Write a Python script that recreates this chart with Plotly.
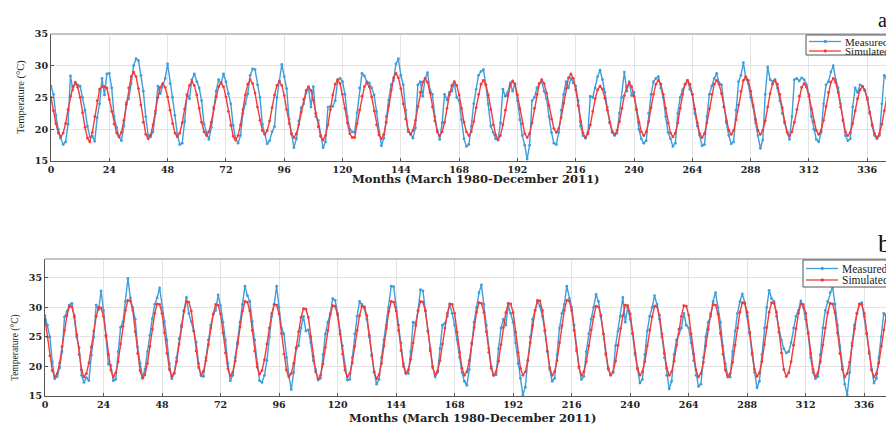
import plotly.graph_objects as go

# ---------------- data (monthly values, March 1980 onward) ----------------
measured_a = sum([
    [26.8,25.5,22.2,20.0,18.6,17.6,18.0,20.8,28.4,26.2,27.4,27.0],
    [26.8,25.0,23.0,20.5,18.8,18.9,18.1,21.8,24.0,28.0,25.4,28.7],
    [28.8,26.5,22.0,20.3,18.8,18.2,20.5,24.2,24.8,27.2,30.0,31.1],
    [30.8,28.5,26.0,22.0,19.0,18.8,19.6,22.5,26.8,25.6,27.0,28.0],
    [30.3,27.2,25.0,22.2,19.2,17.6,17.8,21.2,25.5,24.8,27.8,28.7],
    [27.5,26.5,24.5,20.8,19.5,18.4,20.3,23.5,26.0,27.8,27.2,28.7],
    [27.5,25.6,24.0,20.6,18.5,17.8,19.0,22.5,24.0,25.6,28.5,29.5],
    [29.4,27.0,25.0,20.8,19.4,17.7,18.2,19.6,20.4,25.0,27.6,30.2],
    [28.3,26.4,21.6,19.2,17.1,18.5,21.3,23.4,24.0,25.7,26.5,23.5],
    [26.7,22.0,21.4,19.0,17.1,18.0,23.5,23.6,23.6,24.5,27.7,28.0],
    [27.5,25.5,22.0,20.0,19.6,19.5,22.6,26.5,28.8,28.4,27.5,27.3],
    [26.5,25.4,22.8,19.6,17.4,18.6,22.0,24.6,27.0,27.7,30.3,31.1],
    [28.5,27.0,23.0,19.6,19.3,18.6,20.2,27.0,27.5,25.2,28.0,28.9],
    [26.2,25.5,22.0,19.8,18.4,21.0,25.5,24.6,25.8,26.0,27.3,25.0],
    [24.5,21.5,18.5,17.3,17.6,20.5,24.0,26.3,28.5,29.1,29.4,27.0],
    [24.0,20.5,19.5,18.5,18.3,21.0,26.3,25.2,25.8,27.3,26.0,27.2],
    [24.5,21.5,19.0,17.5,15.3,17.5,24.5,25.0,26.5,27.2,27.5,26.0],
    [24.8,22.0,19.5,17.8,17.6,19.5,23.0,25.5,27.5,26.5,28.0,27.3],
    [26.8,24.5,20.5,19.0,18.6,19.5,25.2,25.0,26.5,28.3,29.3,27.8],
    [25.8,23.5,21.0,19.5,19.0,19.4,22.5,25.0,29.0,26.0,27.5,25.3],
    [25.8,23.0,20.0,18.5,17.8,18.2,22.5,25.5,27.5,28.0,28.3,26.5],
    [25.0,22.0,19.5,18.5,17.3,17.8,22.5,25.0,26.2,27.0,27.7,26.3],
    [25.5,22.5,20.5,19.0,17.4,17.6,22.0,25.5,26.8,28.0,28.8,27.3],
    [27.0,23.5,21.0,19.0,17.7,18.0,23.0,27.5,28.5,30.5,28.0,27.2],
    [25.0,23.5,21.0,19.0,17.0,18.3,25.5,29.8,27.8,27.5,27.8,26.5],
    [24.5,22.5,21.0,19.5,18.4,22.0,27.8,28.0,27.6,28.1,27.8,27.0],
    [25.5,22.0,20.0,18.4,18.0,19.5,24.0,27.0,27.5,29.0,30.0,27.8],
    [26.5,24.0,21.5,19.0,18.2,18.5,23.5,26.5,25.8,27.0,26.8,26.2],
    [25.0,22.5,20.5,19.0,18.5,19.0,24.0,28.5,28.0,29.0,28.5,29.0],
    [27.5,26.0],
], [])

simulated_a = sum([
    [25.0,22.9,20.9,19.4,18.8,19.4,20.9,23.1,25.2,26.7,27.3,26.6],
    [25.0,22.6,20.3,18.6,18.0,19.5,22.0,24.5,26.3,26.7,26.7,26.5],
    [24.7,22.8,20.8,19.4,18.8,19.5,21.4,23.9,26.5,28.3,29.0,28.3],
    [26.4,23.8,21.1,19.2,18.5,19.1,20.7,22.9,25.0,26.6,27.2,26.6],
    [25.1,23.0,20.9,19.4,18.8,19.4,21.0,23.2,25.3,26.9,27.5,26.9],
    [25.4,23.3,21.1,19.6,19.0,19.6,21.1,23.2,25.2,26.7,27.3,26.7],
    [25.1,22.8,20.6,18.9,18.3,19.0,20.7,23.1,25.4,27.1,27.8,27.2],
    [25.7,23.5,21.4,19.8,19.2,19.8,21.3,23.4,25.4,26.9,27.5,26.9],
    [25.3,23.1,20.9,19.3,18.7,19.3,20.7,22.7,24.7,26.1,26.7,26.1],
    [24.6,22.5,20.4,18.9,18.3,19.0,20.7,23.1,25.4,27.1,27.8,27.2],
    [25.5,23.3,21.0,19.3,18.7,18.7,20.9,23.0,25.2,26.7,27.3,26.7],
    [25.1,22.9,20.7,19.1,18.5,19.2,21.1,23.7,26.2,28.1,28.8,28.1],
    [26.4,24.0,21.6,19.9,19.2,19.8,21.4,23.6,25.8,27.4,28.0,27.4],
    [25.8,23.5,21.3,19.6,19.0,19.6,21.1,23.3,25.4,26.9,27.5,26.9],
    [25.4,23.3,21.1,19.6,19.0,19.6,21.2,23.4,25.5,27.1,27.7,27.0],
    [25.4,23.1,20.7,19.1,18.4,19.0,20.7,23.0,25.3,26.9,27.6,27.0],
    [25.4,23.2,20.9,19.3,18.7,19.3,21.0,23.3,25.5,27.2,27.8,27.2],
    [25.7,23.7,21.6,20.1,19.5,20.1,21.8,24.1,26.4,28.1,28.7,28.0],
    [26.2,23.7,21.2,19.4,18.7,19.3,20.7,22.8,24.8,26.2,26.8,26.3],
    [24.9,23.0,21.1,19.7,19.2,19.8,21.2,23.3,25.3,26.7,27.3,26.7],
    [25.2,23.2,21.1,19.6,19.0,19.6,21.2,23.4,25.5,27.1,27.7,27.1],
    [25.5,23.3,21.0,19.4,18.8,19.4,21.0,23.3,25.5,27.1,27.7,27.1],
    [25.5,23.2,21.0,19.3,18.7,19.3,21.0,23.2,25.5,27.1,27.7,27.1],
    [25.6,23.5,21.3,19.8,19.2,19.8,21.5,23.8,26.0,27.7,28.3,27.7],
    [26.0,23.8,21.5,19.8,19.2,19.8,21.3,23.5,25.6,27.1,27.7,27.1],
    [25.5,23.4,21.2,19.6,19.0,19.6,21.1,23.1,25.2,26.6,27.2,26.6],
    [25.2,23.2,21.2,19.8,19.2,19.8,21.4,23.6,25.8,27.4,28.0,27.4],
    [25.8,23.5,21.3,19.6,19.0,19.5,20.9,22.9,24.8,26.2,26.7,26.1],
    [24.7,22.7,20.7,19.3,18.7,19.3,20.8,22.9,24.9,26.4,27.0,26.5],
    [25.0,23.0],
], [])

measured_b = sum([
    [28.6,27.0,25.0,20.8,17.9,18.3,19.8,22.5,28.4,29.3,30.4,30.7],
    [28.3,25.0,23.2,18.5,17.3,18.1,17.6,21.9,25.0,30.4,29.6,32.8],
    [29.5,25.0,20.4,20.2,17.6,17.8,22.5,26.6,27.6,31.0,34.9,31.6],
    [30.0,28.0,23.3,20.5,18.1,19.5,22.5,25.3,28.1,30.5,31.6,33.3],
    [30.0,27.6,24.5,20.5,17.9,18.8,21.5,24.7,27.0,29.5,31.7,29.0],
    [27.6,26.0,24.1,20.5,18.4,18.3,21.5,24.5,27.0,28.8,29.5,32.1],
    [30.3,27.5,24.5,20.5,17.6,18.5,21.5,24.1,27.5,30.5,33.6,32.0],
    [31.0,27.6,24.5,20.5,17.6,17.3,18.5,21.0,25.0,28.5,30.5,33.6],
    [30.0,26.5,25.5,21.5,18.5,16.1,19.0,23.0,23.5,26.5,28.5,26.0],
    [26.2,24.0,21.0,19.5,17.7,18.0,22.0,25.5,27.5,29.0,31.5,31.2],
    [29.0,26.0,23.5,20.0,17.7,17.8,21.5,25.5,28.5,31.0,30.5,29.8],
    [28.0,25.0,22.0,19.0,17.0,17.8,21.5,24.5,27.0,30.0,33.6,33.5],
    [30.0,27.0,24.0,20.5,19.0,18.8,22.5,27.5,27.3,29.5,33.0,32.8],
    [29.5,26.0,23.0,20.0,18.2,19.0,23.0,27.0,27.3,28.5,30.5,29.0],
    [27.0,24.5,21.5,19.0,17.5,16.8,19.5,24.0,27.5,30.0,32.5,33.8],
    [30.5,27.0,23.0,20.0,18.5,18.6,23.0,26.5,28.0,27.0,30.3,29.0],
    [27.5,24.0,20.5,18.0,15.2,16.5,21.0,25.0,28.0,29.5,31.0,30.2],
    [28.5,26.0,22.5,19.5,17.5,18.0,22.0,26.5,29.0,30.5,33.6,31.5],
    [30.0,27.0,23.0,20.0,17.8,18.3,22.5,25.5,28.0,30.0,32.2,31.0],
    [28.5,25.5,22.0,19.5,18.6,19.0,23.5,26.0,28.5,31.7,27.5,30.0],
    [28.0,25.5,22.0,19.5,17.2,17.8,22.0,26.0,28.5,30.0,32.0,30.5],
    [28.0,25.0,21.5,18.5,16.2,17.5,22.0,24.5,25.5,26.5,29.0,27.0],
    [26.5,24.0,21.0,18.5,16.6,17.0,21.5,25.0,27.5,28.5,31.0,32.5],
    [30.0,27.5,23.5,20.5,18.5,18.2,22.5,26.0,29.0,31.0,32.3,30.8],
    [28.5,25.5,22.0,19.0,16.4,17.5,22.0,26.5,30.0,32.9,31.5,31.0],
    [28.5,26.5,24.5,23.0,22.3,22.5,24.0,26.5,28.5,29.5,31.1,30.0],
    [28.0,25.5,21.5,19.0,17.9,18.3,22.0,26.5,29.5,31.0,32.5,33.6],
    [30.5,27.0,23.5,20.0,17.0,15.2,19.0,24.0,27.0,29.0,30.5,30.8],
    [28.5,25.5,22.5,19.5,17.2,18.0,21.5,25.0,29.0,28.5,32.0,33.5],
    [31.0,28.0],
], [])

simulated_b = sum([
    [28.0,25.0,21.8,19.3,18.2,18.8,20.6,23.4,26.1,28.6,30.2,30.1],
    [28.6,25.4,22.0,19.4,18.2,18.8,20.6,23.3,26.0,28.5,30.0,29.9],
    [28.5,25.3,22.0,19.4,18.2,18.9,20.8,23.8,26.8,29.5,31.2,31.1],
    [29.5,25.9,22.2,19.3,18.0,18.6,20.5,23.4,26.3,29.0,30.6,30.5],
    [29.0,25.7,22.2,19.5,18.3,18.9,20.8,23.8,26.7,29.3,31.0,30.9],
    [29.4,26.0,22.6,19.8,18.6,19.2,21.0,23.7,26.5,28.9,30.5,30.4],
    [28.9,25.7,22.3,19.6,18.4,19.0,20.9,23.8,26.7,29.4,31.0,30.9],
    [29.4,26.1,22.6,19.9,18.7,19.3,21.1,23.8,26.5,29.0,30.5,30.4],
    [28.9,25.6,22.1,19.4,18.2,18.8,20.5,23.2,25.9,28.3,29.8,29.7],
    [28.3,25.0,21.7,19.1,17.9,18.5,20.4,23.2,26.1,28.7,30.3,30.2],
    [28.7,25.5,22.1,19.4,18.2,18.8,20.6,23.4,26.1,28.6,30.2,30.1],
    [28.6,25.3,21.8,19.1,17.9,18.6,20.5,23.5,26.5,29.3,31.0,30.9],
    [29.4,26.1,22.7,20.0,18.8,19.4,21.2,24.0,26.9,29.4,31.0,30.9],
    [29.4,26.0,22.6,19.8,18.6,19.2,21.0,23.8,26.5,29.0,30.6,30.5],
    [29.0,25.8,22.4,19.7,18.5,19.1,21.0,23.8,26.6,29.2,30.8,30.7],
    [29.2,25.9,22.4,19.7,18.5,19.1,20.9,23.7,26.6,29.1,30.7,30.6],
    [29.1,25.8,22.4,19.7,18.5,19.1,21.0,24.0,26.9,29.5,31.2,31.1],
    [29.5,26.1,22.6,19.8,18.5,19.1,21.0,24.0,26.9,29.5,31.2,31.1],
    [29.5,26.1,22.6,19.8,18.5,19.1,20.8,23.5,26.2,28.4,30.2,30.1],
    [28.7,25.5,22.2,19.7,18.5,19.1,20.9,23.6,26.4,28.6,30.4,30.3],
    [28.9,25.6,22.3,19.7,18.5,19.1,20.8,23.5,26.2,28.4,30.2,30.1],
    [28.7,25.5,22.2,19.7,18.5,19.1,20.9,23.6,26.3,28.5,30.3,30.2],
    [28.7,25.5,22.1,19.4,18.2,18.8,20.7,23.5,26.3,28.9,30.5,30.4],
    [28.9,25.6,22.1,19.4,18.2,18.8,20.7,23.6,26.5,29.2,30.8,30.7],
    [29.2,25.8,22.3,19.5,18.3,18.9,20.8,23.7,26.6,29.2,30.8,30.7],
    [29.2,25.8,22.3,19.5,18.3,18.9,20.8,23.6,26.4,29.0,30.6,30.5],
    [29.0,25.7,22.2,19.5,18.3,18.9,20.8,23.6,26.5,29.1,30.7,30.6],
    [29.1,25.7,22.2,19.5,18.2,18.8,20.7,23.5,26.4,29.0,30.6,30.5],
    [29.0,25.6,22.2,19.4,18.2,18.8,20.6,23.4,26.2,28.7,30.3,30.2],
    [28.7,25.5],
], [])

months = list(range(len(measured_a)))
x_ticks = list(range(0, 337, 24))
y_ticks_a = [15, 20, 25, 30, 35]
y_ticks_b = [15, 20, 25, 30, 35]
series_names = ["Measured", "Simulated"]
x_title = "Months (March 1980-December 2011)"
y_title = "Temperature (\u00b0C)"

# ---------------- styling ----------------
# The page has an 8px body margin, so the figure is sized to fill the
# remaining window and all screen positions are shifted by that margin.
OFF = 8
W, H = 894 - OFF, 427 - OFF
BLUE = "#3f9ddb"
RED = "#f23c3c"
TICKFONT = dict(family="DejaVu Serif", size=9.5, color="#222", weight="bold")

def px(x):
    return (x - OFF) / W

def py(y):
    return (H - (y - OFF)) / H

fig = go.Figure()

def add_series(xa, ya, meas, sim):
    fig.add_trace(go.Scatter(x=months, y=meas, mode="lines+markers",
                             line=dict(color=BLUE, width=1.4),
                             marker=dict(color=BLUE, size=2.8),
                             name=series_names[0], showlegend=False,
                             xaxis=xa, yaxis=ya))
    fig.add_trace(go.Scatter(x=months, y=sim, mode="lines+markers",
                             line=dict(color=RED, width=1.4),
                             marker=dict(color=RED, size=2.8),
                             name=series_names[1], showlegend=False,
                             xaxis=xa, yaxis=ya))

add_series("x", "y", measured_a, simulated_a)
add_series("x2", "y2", measured_b, simulated_b)

axis_common = dict(showgrid=True, gridcolor="#e3e3e3", gridwidth=1,
                   zeroline=False, showline=True, linecolor="#555",
                   linewidth=1, ticks="inside", ticklen=3, tickcolor="#555",
                   tickfont=TICKFONT)

fig.update_layout(
    width=W, height=H,
    margin=dict(l=0, r=0, t=0, b=0, autoexpand=False),
    paper_bgcolor="white", plot_bgcolor="white",
    showlegend=False,
    xaxis=dict(domain=[px(51), 1], range=[0, 347], tickvals=x_ticks,
               anchor="y", **axis_common),
    yaxis=dict(domain=[py(161), py(34)], range=[15, 35], tickvals=y_ticks_a,
               anchor="x", **axis_common),
    xaxis2=dict(domain=[px(45), 1], range=[0, 348.2], tickvals=x_ticks,
                anchor="y2", **axis_common),
    yaxis2=dict(domain=[py(396), py(259)], range=[15, 38.2], tickvals=y_ticks_b,
                anchor="x2", **axis_common),
)

shapes = []
# top frame lines
for xr, yr in (("x domain", "y domain"), ("x2 domain", "y2 domain")):
    shapes.append(dict(type="line", xref=xr, yref=yr, x0=0, x1=1, y0=1, y1=1,
                       line=dict(color="#c4c4c4", width=2)))

annotations = []

def legend(box_top, box_bottom, row1, row2, x_left, fs):
    shapes.append(dict(type="rect", xref="paper", yref="paper",
                       x0=px(x_left), x1=1.05, y0=py(box_bottom), y1=py(box_top),
                       line=dict(color="#555", width=1), fillcolor="white"))
    for yy, col, name in ((row1, BLUE, series_names[0]), (row2, RED, series_names[1])):
        shapes.append(dict(type="line", xref="paper", yref="paper",
                           x0=px(x_left + 3), x1=px(x_left + 35), y0=py(yy), y1=py(yy),
                           line=dict(color=col, width=1.3)))
        shapes.append(dict(type="circle", xref="paper", yref="paper",
                           x0=px(x_left + 18), x1=px(x_left + 20.5),
                           y0=py(yy + 1.2), y1=py(yy - 1.2),
                           line=dict(color=col, width=1), fillcolor=col))
        annotations.append(dict(text=name, xref="paper", yref="paper",
                                x=px(x_left + 37), y=py(yy), xanchor="left",
                                yanchor="middle", showarrow=False,
                                font=dict(family="Liberation Serif", size=fs, color="#222")))

legend(35, 55, 41.5, 51, 806, 11)
legend(260, 287, 268.5, 280, 803, 11.5)

# axis titles and panel labels
for xc, yc in ((475, 179), (473, 418)):
    annotations.append(dict(text=x_title, xref="paper", yref="paper",
                            x=px(xc), y=py(yc), xanchor="center", yanchor="middle",
                            showarrow=False,
                            font=dict(family="DejaVu Serif", size=11.5, color="#222",
                                      weight="bold")))
for xc, yc, fs in ((21, 97, 10.5), (15, 348, 9.5)):
    annotations.append(dict(text=y_title, xref="paper", yref="paper",
                            x=px(xc), y=py(yc), xanchor="center", yanchor="middle",
                            textangle=-90, showarrow=False,
                            font=dict(family="Liberation Serif", size=fs, color="#222")))
for txt, yc, fs in (("a)", 20, 20), ("b)", 243, 26)):
    annotations.append(dict(text=txt, xref="paper", yref="paper",
                            x=px(876), y=py(yc), xanchor="left", yanchor="middle",
                            showarrow=False,
                            font=dict(family="Liberation Serif", size=fs, color="#111")))

fig.update_layout(shapes=shapes, annotations=annotations)
fig.write_html("out.html")
